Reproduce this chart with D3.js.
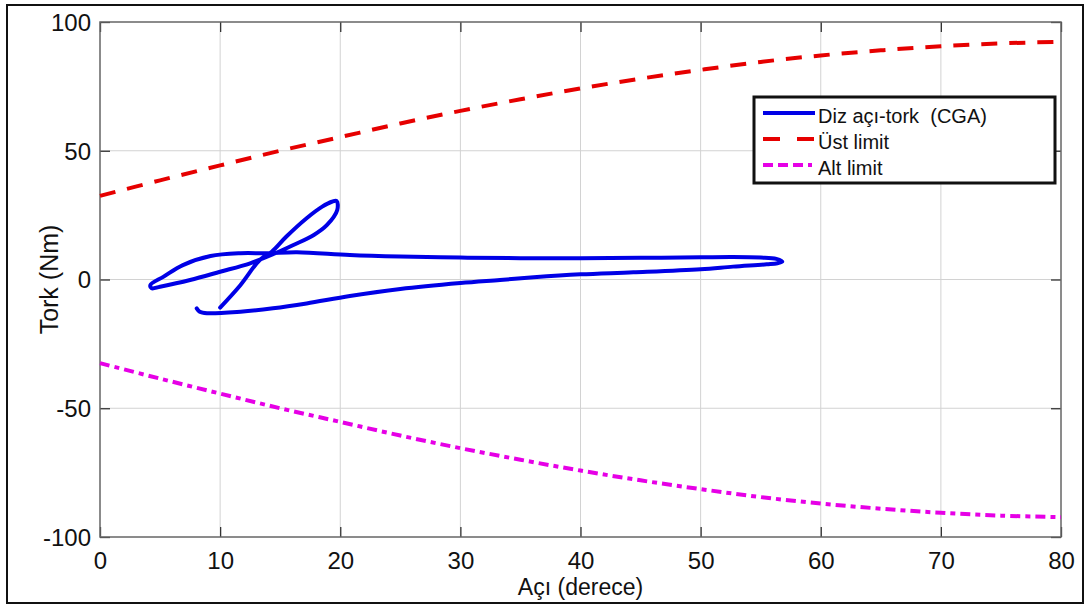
<!DOCTYPE html>
<html>
<head>
<meta charset="utf-8">
<script src="https://cdn.jsdelivr.net/npm/d3@7"></script>
<style>
  body { margin: 0; background: #fff; }
  text { font-family: "Liberation Sans", Arial, sans-serif; fill: #111; }
</style>
</head>
<body>
<div id="chart"></div>
<script>
// Knee angle-torque loop (CGA)
const loopAngle = [10.0, 11.7, 13.3, 14.3, 15.5, 17.2, 18.5, 19.3, 19.7, 19.75,
  18.9, 17.8, 16.1, 14.4, 12.5, 10.0, 7.5, 5.0, 4.3, 4.2,
  5.3, 6.9, 9.2, 11.7, 13.9, 16.4, 20.8, 25, 30, 35, 40, 45, 50, 52.7, 55, 56.3, 56.8,
  56.4, 55.5, 52.7, 50, 44.4, 40, 36.1, 33.3, 30, 25, 20.8, 17.2, 14.4, 11.7, 8.9, 8.3, 8.05];
const loopTorque = [-10.9, -2.1, 7.6, 10.8, 16.6, 23.8, 28.3, 30.2, 30.5, 27.0,
  21.2, 17.3, 13.4, 9.8, 6.3, 3.0, -0.2, -2.8, -3.4, -2.1,
  1.1, 5.6, 9.1, 10.2, 10.2, 10.6, 9.5, 8.9, 8.5, 8.3, 8.3, 8.4, 8.6, 8.7, 8.5, 8.0, 6.9,
  6.3, 5.9, 5.0, 4.0, 2.8, 2.0, 0.85, -0.2, -1.4, -3.7, -6.4, -9.3, -11.2, -12.5, -13.1, -12.5, -11.2];

// Limit curves
const limitAngle = [0, 5, 10, 15, 20, 25, 30, 35, 40, 45, 50, 55, 60, 65, 70, 75, 80];
const upperLimit = [32.5, 38.5, 44.3, 50, 55.3, 60.6, 65.5, 70, 74.2, 78, 81.4, 84.5, 87, 89, 90.6, 91.7, 92.3];
const lowerLimit = [-32.5, -38.5, -44.3, -50, -55.3, -60.6, -65.5, -70, -74.2, -78, -81.4, -84.5, -87, -89, -90.6, -91.7, -92.3];

const xTicks = [0, 10, 20, 30, 40, 50, 60, 70, 80];
const yTicks = [-100, -50, 0, 50, 100];
const legendLabels = ["Diz açı-tork  (CGA)", "Üst limit", "Alt limit"];

const W = 1086, H = 606;
const margin = { top: 22, right: 25, bottom: 69, left: 100 };
const iw = W - margin.left - margin.right;
const ih = H - margin.top - margin.bottom;

const svg = d3.select("#chart").append("svg")
  .attr("width", W).attr("height", H);

svg.append("rect").attr("width", W).attr("height", H).attr("fill", "#fff");

// outer frame
svg.append("rect")
  .attr("x", 7).attr("y", 5).attr("width", 1076).attr("height", 598)
  .attr("fill", "none").attr("stroke", "#111").attr("stroke-width", 2);

const x = d3.scaleLinear().domain([0, 80]).range([0, iw]);
const y = d3.scaleLinear().domain([-100, 100]).range([ih, 0]);

const g = svg.append("g").attr("transform", `translate(${margin.left},${margin.top})`);

// grid
g.append("g").selectAll("line").data(xTicks.slice(1, -1)).join("line")
  .attr("x1", d => x(d)).attr("x2", d => x(d)).attr("y1", 0).attr("y2", ih)
  .attr("stroke", "#d2d2d2").attr("stroke-width", 1);
g.append("g").selectAll("line").data(yTicks.slice(1, -1)).join("line")
  .attr("y1", d => y(d)).attr("y2", d => y(d)).attr("x1", 0).attr("x2", iw)
  .attr("stroke", "#d2d2d2").attr("stroke-width", 1);

// axes (ticks pointing inside, labels outside), plain hyphen minus
const fmt = d => String(d);
const xAxis = g.append("g").attr("transform", `translate(0,${ih})`)
  .call(d3.axisBottom(x).tickValues(xTicks).tickFormat(fmt).tickSizeInner(-10).tickSizeOuter(0));
const yAxis = g.append("g")
  .call(d3.axisLeft(y).tickValues(yTicks).tickFormat(fmt).tickSizeInner(-10).tickSizeOuter(0));
g.append("g")
  .call(d3.axisTop(x).tickValues(xTicks).tickSizeInner(-10).tickSizeOuter(0).tickFormat(""));
g.append("g").attr("transform", `translate(${iw},0)`)
  .call(d3.axisRight(y).tickValues(yTicks).tickSizeInner(-10).tickSizeOuter(0).tickFormat(""));

g.selectAll(".domain").remove();
g.selectAll(".tick line").attr("stroke", "#333").attr("stroke-width", 1.3);
xAxis.selectAll("text").attr("font-size", 24).attr("y", 15).attr("dy", "0.71em")
  .style("font-family", "'Liberation Sans', Arial, sans-serif").attr("fill", "#111");
yAxis.selectAll("text").attr("font-size", 24).attr("x", -9).attr("dy", "0.35em")
  .style("font-family", "'Liberation Sans', Arial, sans-serif").attr("fill", "#111");

// plot box
g.append("rect").attr("width", iw).attr("height", ih)
  .attr("fill", "none").attr("stroke", "#666").attr("stroke-width", 1.5);

// axis labels
svg.append("text")
  .attr("x", margin.left + iw / 2).attr("y", 595)
  .attr("text-anchor", "middle").attr("font-size", 23)
  .text("Açı (derece)");
svg.append("text")
  .attr("transform", `translate(58,${margin.top + ih / 2}) rotate(-90)`)
  .attr("text-anchor", "middle").attr("font-size", 25)
  .text("Tork (Nm)");

const smooth = d3.line().x(d => x(d[0])).y(d => y(d[1])).curve(d3.curveCatmullRom.alpha(0.5));

const colors = ["#0000e6", "#e60000", "#e600e6"];
const dashes = [null, "16,12", "10,5,5,5"];

g.append("path")
  .datum(limitAngle.map((a, i) => [a, upperLimit[i]]))
  .attr("d", smooth).attr("fill", "none")
  .attr("stroke", colors[1]).attr("stroke-width", 4).attr("stroke-dasharray", dashes[1]);

g.append("path")
  .datum(limitAngle.map((a, i) => [a, lowerLimit[i]]))
  .attr("d", smooth).attr("fill", "none")
  .attr("stroke", colors[2]).attr("stroke-width", 4).attr("stroke-dasharray", dashes[2]);

g.append("path")
  .datum(loopAngle.map((a, i) => [a, loopTorque[i]]))
  .attr("d", smooth).attr("fill", "none")
  .attr("stroke", colors[0]).attr("stroke-width", 4)
  .attr("stroke-linejoin", "round").attr("stroke-linecap", "round");

// legend
const lg = svg.append("g");
lg.append("rect")
  .attr("x", 754).attr("y", 97).attr("width", 301).attr("height", 86)
  .attr("fill", "#fff").attr("stroke", "#111").attr("stroke-width", 3);
const rows = lg.selectAll("g.row").data(legendLabels).join("g")
  .attr("class", "row")
  .attr("transform", (d, i) => `translate(0,${113 + i * 26})`);
rows.append("line")
  .attr("x1", 763).attr("x2", 815).attr("y1", 0).attr("y2", 0)
  .attr("stroke", (d, i) => colors[i]).attr("stroke-width", 4)
  .attr("stroke-dasharray", (d, i) => i === 1 ? "17,17" : i === 2 ? "10,5,10,5,10,5,4" : null);
rows.append("text")
  .attr("x", 818).attr("y", 10).attr("font-size", 20)
  .style("white-space", "pre")
  .text(d => d);
</script>
</body>
</html>
